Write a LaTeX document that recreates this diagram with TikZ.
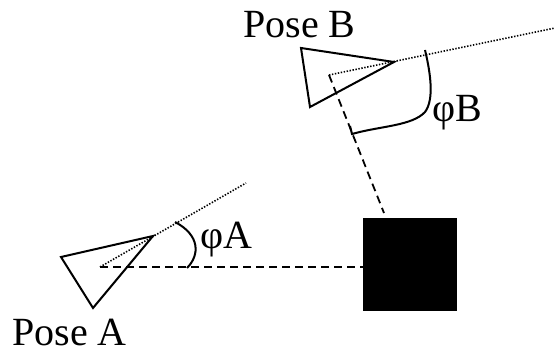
\documentclass[tikz,border=0pt]{standalone}
\usepackage{fontspec}
\setmainfont{Liberation Serif}
\begin{document}
\begin{tikzpicture}[x=1pt,y=-1pt,
  tri/.style={draw=black, line width=2pt, line join=miter},
  dotray/.style={draw=black, line width=1.6pt, dash pattern=on 1.4pt off 1.6pt},
  dashray/.style={draw=black, line width=1.8pt, dash pattern=on 8pt off 5pt},
  angarc/.style={draw=black, line width=2pt},
  lbl/.style={inner sep=0pt, anchor=base west, font=\fontsize{40}{48}\selectfont}]
\useasboundingbox (0,0) rectangle (556,355);
% Pose A
\coordinate (cA) at (100,267);
\coordinate (aTip) at (153,236);
\draw[tri] (61,257) -- (aTip) -- (93,308) -- cycle;
\coordinate (aRay) at (246,183);
\draw[dotray] (cA) -- (aRay);
% Pose B
\coordinate (cB) at (329,75);
\coordinate (bTip) at (394,62);
\draw[tri] (301,48) -- (bTip) -- (310,107) -- cycle;
\coordinate (bRay) at (555,28);
\draw[dotray] (cB) -- (bRay);
% landmark
\node[fill=black, draw=black, minimum width=93pt, minimum height=92pt, inner sep=0pt, anchor=north west] (box) at (363,218) {};
\coordinate (bEnd) at (384,213);
\draw[dashray] (cA) -- (cA -| box.west);
\draw[dashray] (cB) -- (bEnd);
% angles
\draw[angarc] (175,222) .. controls (200,235) and (200,255) .. (187,268);
\draw[angarc] (425,50) .. controls (431,75) and (434,100) .. (425,112) .. controls (412,126) and (380,126) .. (352,134) -- (350,126);
% labels
\node[lbl] (pa) at (12,345) {Pose A};
\node[lbl] (pb) at (243,38) {Pose B};
\node[lbl] (phA) at (200,248) {φA};
\node[lbl] (phB) at (432,122) {φB};
\end{tikzpicture}
\end{document}
